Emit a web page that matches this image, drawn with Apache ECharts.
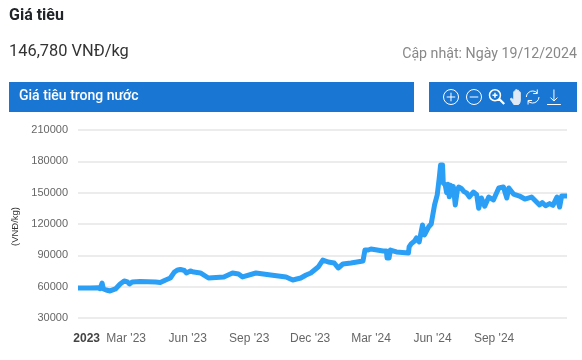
<!DOCTYPE html>
<html>
<head>
<meta charset="utf-8">
<style>html,body{margin:0;padding:0;background:#fff}#c{width:582px;height:360px}</style>
<script src="https://cdn.jsdelivr.net/npm/echarts@6/dist/echarts.min.js"></script>
</head>
<body>
<div id="c"></div>
<script>
const dates = ['2022-12-19','2023-01-06','2023-01-18','2023-01-21','2023-01-23','2023-01-24','2023-01-26','2023-01-30','2023-02-05','2023-02-13','2023-02-20','2023-02-26','2023-03-03','2023-03-06','2023-03-10','2023-03-22','2023-04-14','2023-04-21','2023-04-29','2023-05-06','2023-05-12','2023-05-17','2023-05-21','2023-05-27','2023-05-30','2023-06-05','2023-06-10','2023-06-20','2023-07-02','2023-07-25','2023-08-07','2023-08-16','2023-08-22','2023-09-11','2023-10-03','2023-10-26','2023-11-05','2023-11-17','2023-11-25','2023-12-02','2023-12-13','2023-12-20','2023-12-28','2024-01-06','2024-01-12','2024-01-19','2024-01-31','2024-02-18','2024-02-21','2024-02-26','2024-03-01','2024-03-19','2024-03-24','2024-03-25','2024-03-28','2024-03-30','2024-04-08','2024-04-26','2024-04-27','2024-04-30','2024-05-05','2024-05-08','2024-05-12','2024-05-17','2024-05-20','2024-05-26','2024-05-30','2024-06-04','2024-06-08','2024-06-11','2024-06-13','2024-06-16','2024-06-17','2024-06-20','2024-06-22','2024-06-24','2024-06-26','2024-06-28','2024-06-30','2024-07-02','2024-07-05','2024-07-08','2024-07-10','2024-07-14','2024-07-18','2024-07-22','2024-07-26','2024-08-01','2024-08-06','2024-08-09','2024-08-13','2024-08-18','2024-08-24','2024-08-31','2024-09-08','2024-09-15','2024-09-20','2024-09-23','2024-09-30','2024-10-09','2024-10-17','2024-10-27','2024-11-08','2024-11-12','2024-11-17','2024-11-23','2024-11-28','2024-12-04','2024-12-08','2024-12-11','2024-12-19'];
const prices = [58700,58700,59000,58000,58000,63500,57800,56800,55900,57800,62600,65400,64500,62600,64500,65000,64500,64000,66400,68300,74000,76000,76500,75500,73100,75000,74000,73100,68300,69300,73100,72100,69300,73100,71200,69300,66400,68300,71200,73100,78800,85500,83600,82700,77900,81700,82700,84600,95100,95100,96100,94100,94100,87400,87400,95100,93200,92200,98000,100900,103700,106600,102800,119000,109500,117100,120000,138200,147800,164000,176500,176500,159300,157300,150000,158000,146000,157000,148000,156000,138200,152000,155400,154000,151000,149700,146000,150600,148000,135000,144900,137000,145800,143000,154500,155400,144900,154500,148700,146800,143900,145800,138200,140500,137500,139500,137800,145800,136300,146800,146780];
const yTicks = [30000,60000,90000,120000,150000,180000,210000];
const xTickDates = ['2023-01-01','2023-03-01','2023-06-01','2023-09-01','2023-12-01','2024-03-01','2024-06-01','2024-09-01'];
const xTickLabels = ['2023',"Mar '23","Jun '23","Sep '23","Dec '23","Mar '24","Jun '24","Sep '24"];
const titleText = 'Giá tiêu';
const priceText = '146,780 VNĐ/kg';
const updatedText = 'Cập nhật: Ngày 19/12/2024';
const panelText = 'Giá tiêu trong nước';
const unitText = '(VNĐ/kg)';

const ms = d => new Date(d + 'T00:00:00Z').getTime();
const labelFont = '"Liberation Sans", Arial, sans-serif';
const chart = echarts.init(document.getElementById('c'), null, {renderer:'canvas'});
chart.setOption({
  animation:false,
  backgroundColor:'#fff',
  grid:{left:78,right:15,top:130,bottom:42,containLabel:false},
  xAxis:{
    type:'value',
    min:ms(dates[0]),
    max:ms(dates[dates.length-1]),
    axisLine:{show:false},
    axisTick:{show:false},
    splitLine:{show:false},
    axisLabel:{
      customValues:xTickDates.map(ms),
      margin:15,
      fontFamily:labelFont,
      fontSize:12,
      color:'#666',
      hideOverlap:false,
      formatter:function(v){
        const i = xTickDates.map(ms).indexOf(v);
        const s = i>=0 ? xTickLabels[i] : '';
        return i===0 ? '{b|'+s+'}' : s;
      },
      rich:{b:{fontWeight:'bold',fontFamily:labelFont,fontSize:12,color:'#444'}}
    }
  },
  yAxis:{
    type:'value',
    min:yTicks[0],
    max:yTicks[yTicks.length-1],
    interval:30000,
    name:unitText,
    nameLocation:'middle',
    nameGap:54,
    nameTextStyle:{fontFamily:labelFont,fontSize:9.5,color:'#333',padding:[0,5,0,0]},
    axisLine:{show:false},
    axisTick:{show:false},
    splitLine:{lineStyle:{color:'#e6e6e6',width:1.5}},
    axisLabel:{margin:10,fontFamily:labelFont,fontSize:11,color:'#666',formatter:v=>String(v)}
  },
  toolbox:{
    show:true,
    left:436,
    top:82,
    itemSize:15,
    itemGap:3,
    padding:5,
    z:10,
    iconStyle:{color:'none',borderColor:'#fff',borderWidth:1},
    emphasis:{iconStyle:{borderColor:'#fff'}},
    feature:{
      myZoomIn:{show:true,title:'',icon:'path://M8 1a7 7 0 1 0 0.01 0zM8 4v8M4 8h8',onclick:function(){}},
      myZoomOut:{show:true,title:'',icon:'path://M8 1a7 7 0 1 0 0.01 0zM4 8h8',onclick:function(){}},
      myZoom:{show:true,title:'',icon:'path://M7 1.5a5.5 5.5 0 1 0 0.01 0zM7 4.5v5M4.5 7h5M11 11l5 5M11.6 10.6l5 5',iconStyle:{borderWidth:1.5},onclick:function(){}},
      myPan:{show:true,title:'',icon:'path://M4 15c-1-2-3-4-3-5s1-1 2 0l1 1V3.5c0-1 1.5-1 1.5 0V8V2c0-1 1.5-1 1.5 0v6V2.5c0-1 1.5-1 1.5 0V8V4c0-1 1.500-1 1.500 0v7c0 2-1 4-2 4z',iconStyle:{color:'#dfe9f5',borderColor:'#dfe9f5'},onclick:function(){}},
      myRestore:{show:true,title:'',icon:'path://M2.500 8a5.500 5.500 0 0 1 9.500-3.500M13.500 8a5.500 5.500 0 0 1-9.500 3.500M12 1.500v3.500h-3.500M4 14.500v-3.500h3.500',onclick:function(){}},
      myDownload:{show:true,title:'',icon:'path://M8 2v10M5 9l3 3l3-3M2 15h12',onclick:function(){}}
    }
  },
  graphic:[
    {type:'rect',left:9,top:82,z:-1,shape:{width:405,height:30},style:{fill:'#1976d2'}},
    {type:'rect',left:429,top:82,z:-1,shape:{width:148,height:30},style:{fill:'#1976d2'}},
    {type:'text',left:9,top:8,style:{text:titleText,font:'bold 16px Roboto',fill:'#212529'}},
    {type:'text',left:9,top:44,style:{text:priceText,font:'16.4px Roboto',fill:'#333'}},
    {type:'text',right:5,top:47,style:{text:updatedText,font:'14.2px Roboto',fill:'#888'}},
    {type:'text',left:19,top:89,style:{text:panelText,font:'500 14px Roboto',fill:'#fff'}}
  ],
  series:[{
    type:'line',
    data:dates.map((d,i)=>[ms(d),prices[i]]),
    showSymbol:false,
    smooth:false,
    lineStyle:{color:'#2b9ff5',width:5,join:'round'},
    itemStyle:{color:'#2b9ff5'}
  }]
});
</script>
</body>
</html>
